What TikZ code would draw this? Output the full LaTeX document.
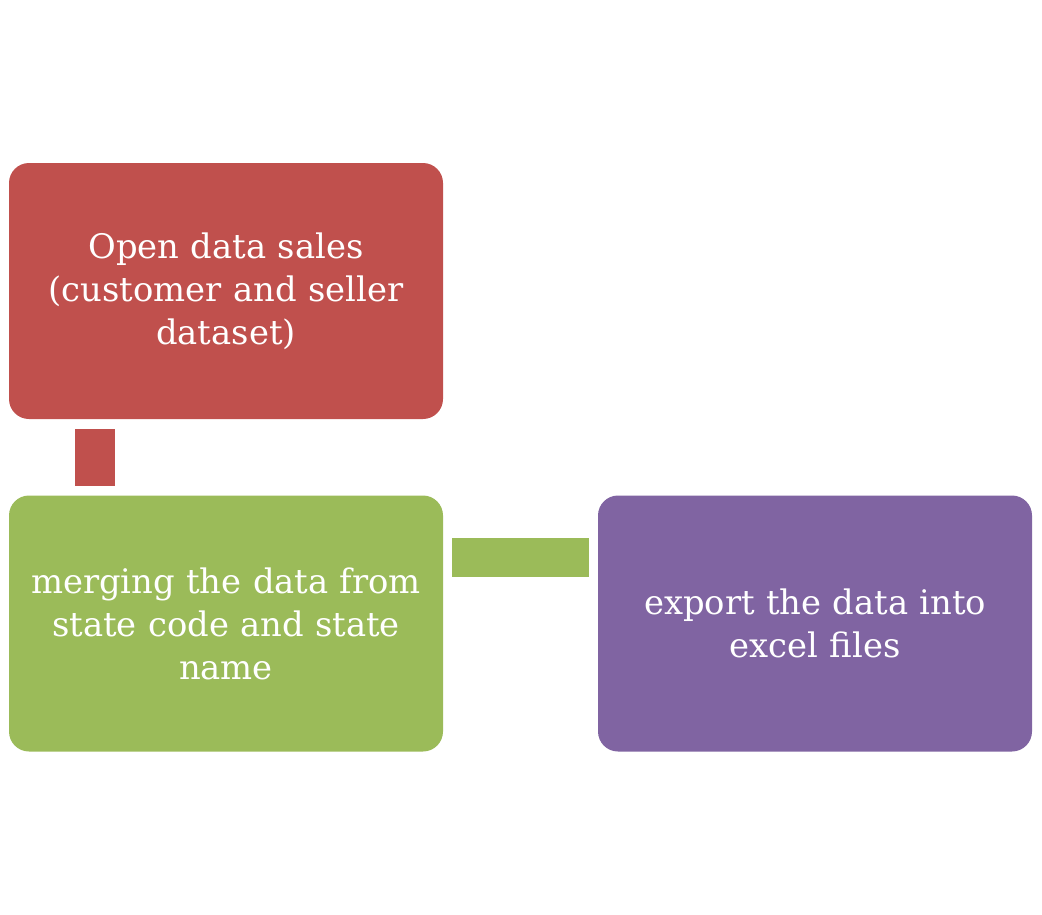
\documentclass[tikz,border=0pt]{standalone}
\usepackage{fontspec}
\setmainfont{DejaVu Serif}
\usepackage{tikz}
\usetikzlibrary{positioning}

\definecolor{boxred}{HTML}{C0504D}
\definecolor{boxgreen}{HTML}{9BBB59}
\definecolor{boxpurple}{HTML}{8064A2}

\begin{document}
\begin{tikzpicture}[
			x=1pt, y=1pt,
			stage/.style={
				rectangle,
				rounded corners=20pt,
				draw=none,
				minimum width=434pt,
				minimum height=256pt,
				text width=416pt,
				align=center,
				text=white,
				font=\fontsize{33.8}{43}\selectfont
			},
			link/.style={
				line width=40pt,
				shorten <=10pt,
				shorten >=9pt
			}
			]
			\useasboundingbox (0,0) rectangle (1042,-914);
			% boxes
			\node[stage, fill=boxred] (open) at (226,-291) {Open data sales\\(customer and seller\\dataset)};
			\node[stage, fill=boxgreen] (merge) at (226,-623.5) {merging the data from\\state code and state\\name};
			\node[stage, fill=boxpurple] (export) at (815,-623.5) {export the data into\\excel files};
			
			% connectors
			\draw[link, draw=boxred] ([xshift=-131pt]open.south) -- ([xshift=-131pt]merge.north);
			\draw[link, draw=boxgreen, line width=39pt, shorten <=9pt] ([yshift=66pt]merge.east) -- ([yshift=66pt]export.west);
		\end{tikzpicture}
\end{document}
